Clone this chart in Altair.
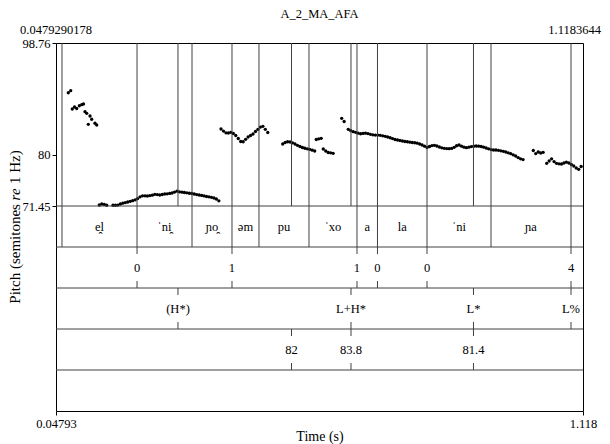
import altair as alt
import pandas as pd

# ---------------- data ----------------
TITLE = "A_2_MA_AFA"
T_START = 0.0479290178
T_END = 1.1183644
TOP_LABELS = ["0.0479290178", "1.1183644"]
Y_TOP = 98.76
Y_BOTTOM = 71.45
Y_TICKS = [71.45, 80, 98.76]
X_TITLE = "Time (s)"

# pitch track (semitones re 1 Hz)
SEG_A_TIMES = [0.0729, 0.0778, 0.0810, 0.0855, 0.0900, 0.0953, 0.1001, 0.1038,
               0.1068, 0.1103, 0.1135, 0.1170, 0.1204, 0.1271, 0.1306]
SEG_A_VALUES = [90.43, 90.77, 87.70, 88.04, 87.79, 88.25, 88.42, 88.54,
                87.25, 86.98, 85.14, 86.53, 85.98, 85.31, 85.02]

FRAME_STEP = 0.005  # pitch analysis time step
SEGMENT_STARTS = [0.1359, 0.1637, 0.3831, 0.5084, 0.5766, 0.5908, 0.6282,
                  0.6416, 1.0174, 1.0446]
SEGMENT_VALUES = [
    [71.62, 71.78, 71.72, 71.58],
    [71.58, 71.58, 71.61, 71.78, 71.92, 72.02, 72.12, 72.24, 72.34, 72.49,
     72.70, 72.99, 73.16, 73.16, 73.12, 73.19, 73.26, 73.41, 73.36, 73.29,
     73.38, 73.46, 73.49, 73.56, 73.63, 73.79, 73.93, 73.83, 73.76, 73.71,
     73.66, 73.59, 73.54, 73.46, 73.36, 73.29, 73.22, 73.14, 73.04, 72.99,
     72.91, 72.79, 72.62, 72.32],
    [84.35, 84.01, 83.71, 83.68, 83.80, 83.60, 83.26, 82.76, 82.26, 82.21,
     82.62, 83.01, 83.26, 83.51, 83.93, 84.30, 84.68, 84.80, 84.30, 83.76],
    [81.84, 82.09, 82.21, 82.17, 82.04, 81.84, 81.62, 81.42, 81.25, 81.13,
     81.03, 80.95, 80.80, 80.66],
    [82.59, 82.71, 82.79],
    [81.00, 80.66, 80.41, 80.36, 80.28],
    [86.14, 85.61],
    [84.30, 84.07, 83.91, 83.80, 83.65, 83.55, 83.61, 83.65, 83.58, 83.46,
     83.38, 83.34, 83.34, 83.29, 83.21, 83.13, 83.01, 82.89, 82.74, 82.59,
     82.51, 82.42, 82.34, 82.26, 82.21, 82.14, 82.09, 82.05, 81.97, 81.84,
     81.67, 81.47, 81.25, 81.42, 81.57, 81.62, 81.50, 81.33, 81.20, 81.12,
     81.07, 81.05, 81.10, 81.28, 81.54, 81.67, 81.47, 81.30, 81.23, 81.30,
     81.40, 81.47, 81.50, 81.47, 81.42, 81.30, 81.17, 81.03, 80.90, 80.83,
     80.83, 80.78, 80.70, 80.61, 80.50, 80.36, 80.21, 80.03, 79.83, 79.56,
     79.36, 79.22],
    [80.75, 80.24, 80.50, 80.33, 80.45],
    [78.60, 78.99, 79.36, 78.90, 78.60, 78.52, 78.49, 78.65, 78.79, 78.65,
     78.40, 78.15, 77.82, 77.60, 78.07],
]

# TextGrid tier 1 (interval tier)
WORD_BOUNDS = [0.0601, 0.2125, 0.3242, 0.4054, 0.4602, 0.5618, 0.6593,
               0.7009, 0.8015, 0.9315, 1.0940]
WORD_LABELS = ["", "e\u032fl", "\u02c8ni\u032f", "\u0272o\u032f", "\u0259m", "pu",
               "\u02c8xo", "a", "la", "\u02c8ni", "\u0272a", ""]
# tier 2 (point tier)
BREAK_TIMES = [0.2125, 0.4054, 0.6593, 0.7009, 0.8015, 1.0940]
BREAK_LABELS = ["0", "1", "1", "0", "0", "4"]
# tier 3 (point tier)
TONE_TIMES = [0.2957, 0.6471, 0.8959, 1.0940]
TONE_LABELS = ["(H*)", "L+H*", "L*", "L%"]
# tier 4 (point tier)
VALUE_TIMES = [0.5263, 0.6471, 0.8959]
VALUE_LABELS = ["82", "83.8", "81.4"]

# ---------------- layout ----------------
W, H = 527, 368
PITCH_H = 163
TIER_H = 41
TICK = 7
FONT = "Liberation Serif"
FS = 12.5
TITLE_FS = 15
LINE = "#404040"

times, vals = list(SEG_A_TIMES), list(SEG_A_VALUES)
for s, vs in zip(SEGMENT_STARTS, SEGMENT_VALUES):
    for i, v in enumerate(vs):
        times.append(round(s + i * FRAME_STEP, 4))
        vals.append(v)
pitch_df = pd.DataFrame({"t": times, "st": vals})

xscale = alt.Scale(domain=[T_START, T_END], nice=False, zero=False)
y_low = Y_TOP - (Y_TOP - Y_BOTTOM) * H / PITCH_H
yscale = alt.Scale(domain=[y_low, Y_TOP], nice=False, zero=False)

XAXIS = alt.Axis(values=[T_START, T_END], format=".4~r", labelFlush=False,
                 tickSize=4, tickColor="#000", domain=False, grid=False,
                 labelFont=FONT, labelFontSize=FS, labelColor="#000",
                 labelPadding=2, title=X_TITLE, titleFont=FONT,
                 titleFontSize=14, titleFontWeight="normal",
                 titleColor="#000", titlePadding=0, orient="bottom")


def X(field):
    return alt.X(f"{field}:Q", scale=xscale, axis=XAXIS)


layers = []

# pitch points with y axis
layers.append(
    alt.Chart(pitch_df).mark_circle(size=11, color="#000", opacity=1).encode(
        x=X("t"),
        y=alt.Y("st:Q", scale=yscale,
                axis=alt.Axis(values=Y_TICKS, format=".4~r", tickSize=4, tickColor="#000",
                              domain=False, grid=False, labelFont=FONT, labelFontSize=FS,
                              labelColor="#000", labelPadding=2, title=None)),
    )
)

# vertical boundary lines through pitch area
all_marks = sorted(set(WORD_BOUNDS + BREAK_TIMES + TONE_TIMES + VALUE_TIMES))
layers.append(
    alt.Chart(pd.DataFrame({"t": all_marks})).mark_rule(color=LINE, strokeWidth=1)
    .encode(x=X("t"), y=alt.value(0), y2=alt.value(PITCH_H))
)

# horizontal tier separators
for k in range(5):
    yy = PITCH_H + k * TIER_H
    layers.append(
        alt.Chart(pd.DataFrame({"d": [0]})).mark_rule(color=LINE, strokeWidth=1)
        .encode(x=alt.value(0), x2=alt.value(W), y=alt.value(yy))
    )

# tier 1: interval tier
t1_top = PITCH_H
edges = [T_START] + WORD_BOUNDS + [T_END]
word_df = pd.DataFrame({"start": edges[:-1], "end": edges[1:], "label": WORD_LABELS})
word_df["t"] = (word_df["start"] + word_df["end"]) / 2
layers.append(
    alt.Chart(pd.DataFrame({"t": WORD_BOUNDS})).mark_rule(color=LINE, strokeWidth=1)
    .encode(x=X("t"), y=alt.value(t1_top), y2=alt.value(t1_top + TIER_H))
)
layers.append(
    alt.Chart(word_df).mark_text(font=FONT, fontSize=FS, color="#000", baseline="middle")
    .encode(x=X("t"), y=alt.value(t1_top + TIER_H / 2), text="label:N")
)

# point tiers
for k, (ts, ls) in enumerate([(BREAK_TIMES, BREAK_LABELS),
                               (TONE_TIMES, TONE_LABELS),
                               (VALUE_TIMES, VALUE_LABELS)]):
    top = PITCH_H + (k + 1) * TIER_H
    df = pd.DataFrame({"t": ts, "label": ls})
    layers.append(
        alt.Chart(df).mark_rule(color=LINE, strokeWidth=1)
        .encode(x=X("t"), y=alt.value(top), y2=alt.value(top + TICK))
    )
    layers.append(
        alt.Chart(df).mark_rule(color=LINE, strokeWidth=1)
        .encode(x=X("t"), y=alt.value(top + TIER_H - TICK), y2=alt.value(top + TIER_H))
    )
    layers.append(
        alt.Chart(df).mark_text(font=FONT, fontSize=FS, color="#000", baseline="middle")
        .encode(x=X("t"), y=alt.value(top + TIER_H / 2), text="label:N")
    )

# top time labels
layers.append(
    alt.Chart(pd.DataFrame({"t": [T_START], "label": [TOP_LABELS[0]]}))
    .mark_text(font=FONT, fontSize=FS, color="#000", baseline="alphabetic", align="center")
    .encode(x=X("t"), y=alt.value(-9), text="label:N")
)
layers.append(
    alt.Chart(pd.DataFrame({"t": [T_END], "label": [TOP_LABELS[1]]}))
    .mark_text(font=FONT, fontSize=FS, color="#000", baseline="alphabetic", align="right", dx=18)
    .encode(x=X("t"), y=alt.value(-9), text="label:N")
)

# title
layers.append(
    alt.Chart(pd.DataFrame({"label": [TITLE]}))
    .mark_text(font=FONT, fontSize=FS, color="#000", baseline="middle", align="center")
    .encode(x=alt.value(W / 2), y=alt.value(-29), text="label:N")
)

# y axis title with italic "re"
ytitle_parts = [("Pitch (semitones", "normal", 260.7),
                ("re", "italic", 157.4),
                ("1 Hz)", "normal", 141.1)]
for txt, style, ypos in ytitle_parts:
    layers.append(
        alt.Chart(pd.DataFrame({"label": [txt]}))
        .mark_text(font=FONT, fontSize=TITLE_FS, fontStyle=style, color="#000",
                   angle=270, align="left", baseline="middle")
        .encode(x=alt.value(-41), y=alt.value(ypos), text="label:N")
    )

chart = alt.layer(*layers).properties(
    width=W, height=H,
    autosize=alt.AutoSizeParams(type="none"),
    padding={"left": 48, "top": 35, "right": 19, "bottom": 33},
).configure_view(stroke="#000", strokeWidth=1)

chart.save("out.html", embed_options={"renderer": "svg", "actions": False})
